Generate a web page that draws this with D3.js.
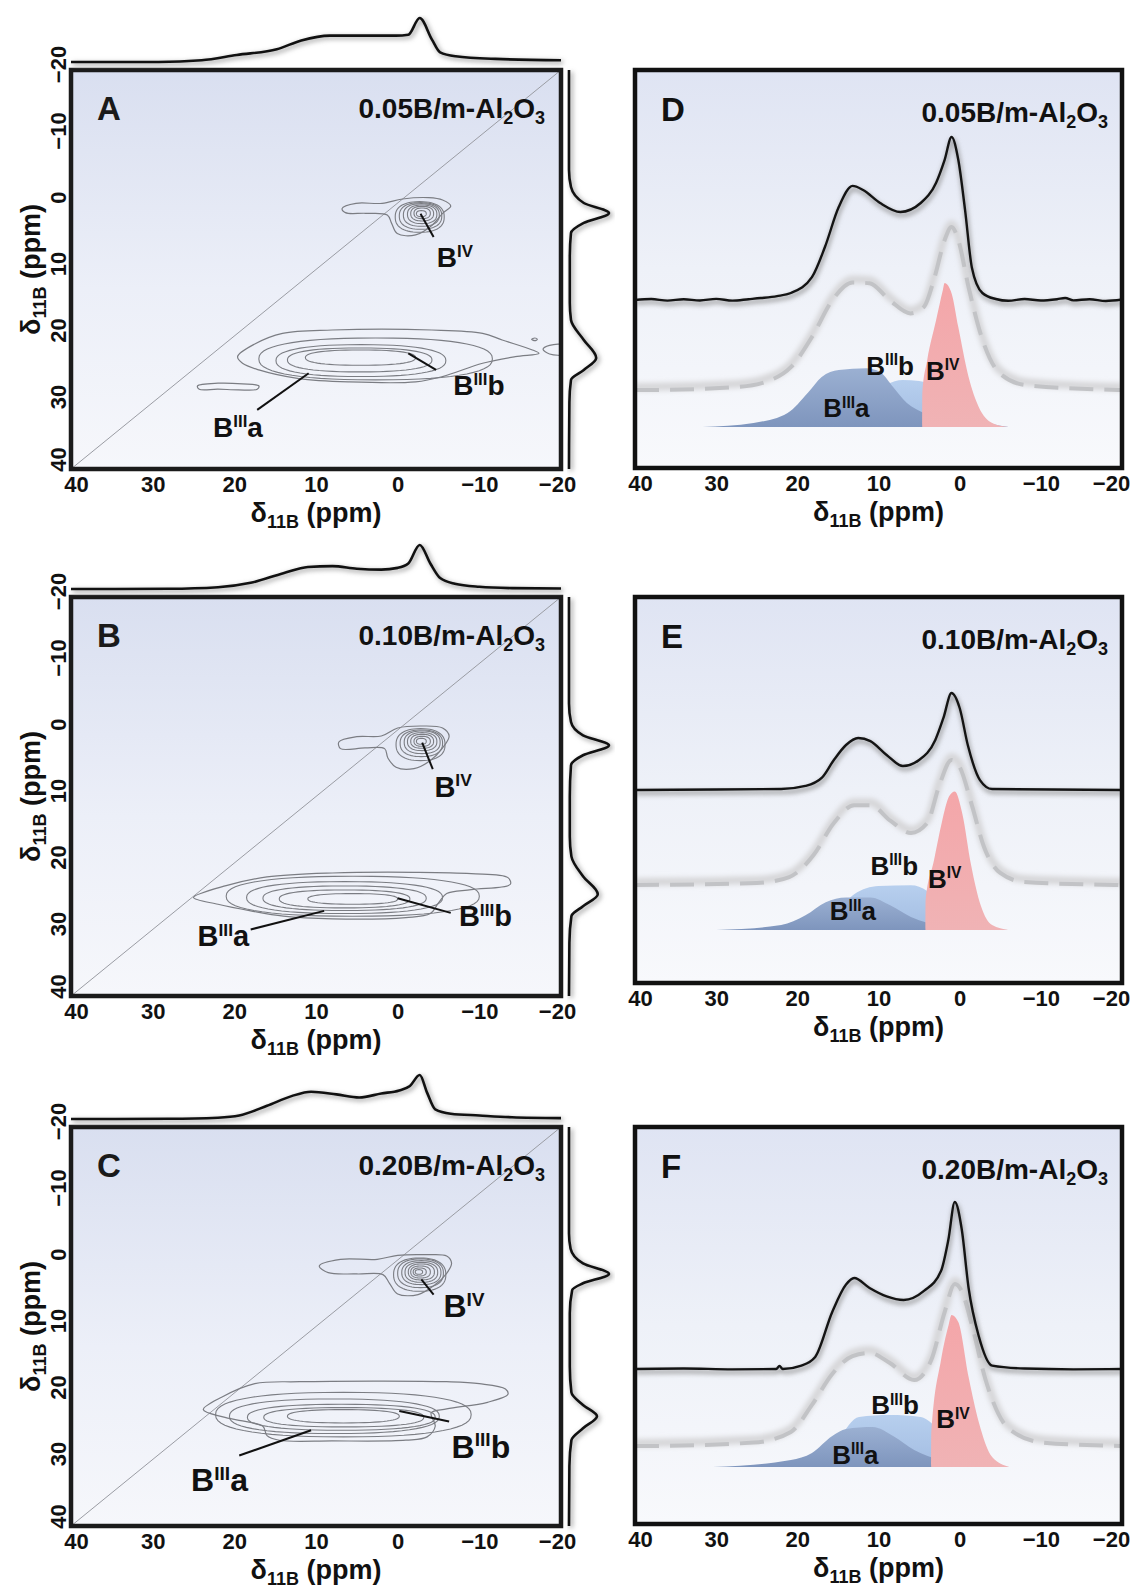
<!DOCTYPE html>
<html>
<head>
<meta charset="utf-8">
<script src="https://cdn.jsdelivr.net/npm/d3@7"></script>
<style>
  body { margin: 0; background: #fff; }
  svg { display: block; font-family: 'Liberation Sans', Arial, sans-serif; }
</style>
</head>
<body>
<svg id="chart" width="1133" height="1589"></svg>
<script>
// ---------- tick labels / panel text ----------
let ppmTicks = [40, 30, 20, 10, 0, -10, -20]
let f1Ticks = [-20, -10, 0, 10, 20, 30, 40]
let letters2D = ['A', 'B', 'C']
let letters1D = ['D', 'E', 'F']
let loadings = ['0.05', '0.10', '0.20']

// ---------- 2D projections [ppm, intensity] ----------
let topProjA = [[40, 0], [29.3, 0], [24, 4], [19.7, 16], [14.8, 29], [11.8, 49], [8.3, 60], [5, 60], [0.2, 60], [-1.3, 62], [-2.7, 100], [-4.2, 51], [-5.2, 22], [-7.1, 13], [-12, 7], [-20, 4]]
let topProjB = [[40, 0], [28, 0.5], [22, 4], [18, 14], [14, 36], [11, 50], [8, 52], [5, 46], [2, 44], [0, 48], [-1.3, 58], [-2.7, 100], [-4, 58], [-5.2, 25], [-7, 12], [-10, 5], [-14, 2], [-20, 1]]
let topProjC = [[40, 0], [28, 0.5], [22, 3], [19.4, 8], [16, 30], [13, 52], [10.6, 62], [7.5, 56], [4.7, 49], [2, 58], [-0.2, 65], [-1.5, 75], [-2.7, 100], [-3.6, 60], [-4.6, 22], [-6.5, 12], [-10, 8], [-14, 4], [-20, 2]]

let rightProjA = [[-20, 0], [-5, 0], [-2.4, 5], [0, 37], [1.5, 100], [3, 37], [4.5, 5], [8, 2], [15, 2], [17.6, 5], [20.6, 37], [23.3, 68], [25.1, 37], [26.6, 5], [30, 1], [40, 0]]
let rightProjB = [[-20, 0], [-4, 0], [-1.2, 5], [0.8, 35], [2.3, 100], [3.8, 35], [5.3, 5], [10, 2], [16, 2], [19, 6], [22, 35], [24.7, 72], [26.5, 35], [28, 6], [32, 1], [40, 0]]
let rightProjC = [[-20, 0], [-4, 0], [-1.7, 4], [0.5, 35], [2.1, 100], [3.5, 35], [4.5, 8], [8, 2], [16, 2], [19.9, 6], [21.8, 35], [23.5, 70], [25.3, 35], [27.1, 6], [31, 1], [40, 0]]

// ---------- 2D contours: outlines [[F2, F1], ...] and rings [cx, cy, rx, ry] (ppm) ----------
let outlinesA = [
  [[6.8, 0.8], [5.1, 0.05], [1.9, 0.05], [-0.6, -0.6], [-3.8, -0.8], [-5.5, -0.45], [-6.5, 0.45], [-5.5, 1.55], [-4.25, 3.3], [-2.2, 4.8], [0.05, 4.6], [0.74, 3.06], [1.27, 1.8], [3.9, 1.55], [6.4, 1.45]],
  [[19.6, 23.1], [17.5, 21.2], [14.1, 19.6], [8, 19.1], [-4.2, 19.1], [-10.4, 19.6], [-12.8, 20.6], [-16.5, 22.1], [-17.3, 22.6], [-14.4, 23.1], [-10.4, 24.1], [-5.5, 26.1], [-2.2, 26.9], [6, 26.9], [12.1, 26.4], [17, 25.1], [19, 24.1]],
  [[24.5, 27.5], [22, 27.1], [19, 27.2], [17, 27.5], [17.2, 28], [19.5, 28.1], [22, 28], [24.3, 28]],
  [[-17.8, 22.0], [-18.6, 21.4], [-20.5, 21.4], [-20.5, 22.7], [-18.6, 22.7]],
  [[-16.4, 20.5], [-16.8, 20.3], [-17.1, 20.5], [-16.8, 20.7]]
]
let ringsA = [
  [-2.7, 2.1, 3.0, 2.3], [-2.8, 1.95, 2.6, 2.0], [-2.9, 1.8, 2.2, 1.7], [-3.0, 1.7, 1.8, 1.4], [-3.0, 1.6, 1.4, 1.1], [-3.0, 1.55, 1.0, 0.8], [-2.9, 1.6, 0.6, 0.45],
  [2.7, 23.45, 14.3, 3.15], [4.5, 23.7, 10.4, 2.4], [4.65, 23.6, 8.85, 1.8], [4.55, 23.25, 6.75, 1.15]
]
let outlinesB = [
  [[7.2, 1.8], [5, 1.0], [2, 0.9], [0, -0.3], [-3, -0.6], [-5.5, -0.3], [-6.3, 0.9], [-5.5, 2.7], [-4, 4.6], [-2, 5.8], [0.2, 5.6], [1.2, 4.2], [1.6, 2.8], [4, 2.7], [7, 2.8]],
  [[25, 25.2], [21, 23.4], [16, 22.1], [8, 21.5], [-2, 21.4], [-9, 21.6], [-13.5, 22.2], [-13.8, 23.2], [-9, 24], [-6, 24.6], [-5, 26], [-4, 27.6], [-1, 28.2], [8, 28.4], [14, 28], [18, 27.2], [22, 26.2]]
]
let ringsB = [
  [-2.8, 2.2, 3.0, 2.4], [-2.9, 2.0, 2.6, 2.0], [-3.0, 1.85, 2.2, 1.7], [-3.0, 1.75, 1.8, 1.35], [-3.0, 1.7, 1.4, 1.05], [-3.0, 1.7, 1.0, 0.75], [-2.9, 1.7, 0.6, 0.45],
  [5.5, 25, 15.5, 3.0], [6.5, 25.2, 12, 2.4], [6.5, 25.3, 10, 1.85], [6.5, 25.4, 8, 1.35], [5.5, 25.4, 5.5, 0.8]
]
let outlinesC = [
  [[9.6, 0.9], [7, -0.1], [2.5, -0.1], [0, -0.7], [-3.5, -0.8], [-6, -0.6], [-6.6, 0.5], [-6, 2], [-4.5, 3.8], [-2.5, 5.2], [0, 5.1], [1, 3.5], [1.8, 2.2], [5, 2.1], [8.5, 1.9]],
  [[23.8, 22.5], [21.5, 20.6], [17.5, 18.6], [12, 18.3], [2, 18.2], [-6, 18.3], [-10, 18.6], [-13.2, 19.4], [-13.5, 20.2], [-11, 21.4], [-6, 22.4], [-4.1, 23], [-4.6, 25], [-3.6, 26.6], [-1, 27.1], [8, 27.2], [14.5, 27.1], [16, 26.4], [16.5, 25], [19, 24.2], [21.4, 23.6]]
]
let ringsC = [
  [-2.7, 2.2, 3.2, 2.5], [-2.8, 2.0, 2.8, 2.15], [-2.9, 1.9, 2.4, 1.8], [-2.9, 1.85, 2.0, 1.5], [-2.9, 1.8, 1.6, 1.2], [-2.8, 1.8, 1.2, 0.9], [-2.7, 1.8, 0.8, 0.6], [-2.6, 1.8, 0.45, 0.35],
  [6.65, 23.25, 15.65, 3.35], [7.75, 23.5, 12.85, 2.6], [6.9, 23.65, 11.5, 1.95], [6.6, 23.65, 9.8, 1.45], [6.65, 23.5, 6.85, 1.0]
]

// site labels [superscript, suffix, F2 ppm, F1 ppm] and leader lines [x1, y1, x2, y2] (ppm)
let sitesA = [['IV', '', -4.8, 9.6], ['III', 'b', -6.8, 28.9], ['III', 'a', 22.6, 35.2]]
let leadersA = [[-2.8, 1.6, -4.4, 5.1], [-1.3, 22.6, -4.7, 25.1], [10.9, 25.6, 17.2, 31.1]]
let sitesB = [['IV', '', -4.5, 10], ['III', 'b', -7.5, 29.5], ['III', 'a', 24.5, 32.5]]
let leadersB = [[-3, 1.9, -4.3, 5.9], [0, 25.3, -6.5, 27.5], [9, 27.2, 18, 30]]
let sitesC = [['IV', '', -5.6, 8.6], ['III', 'b', -6.6, 29.7], ['III', 'a', 25.3, 34.8]]
let leadersC = [[-2.9, 2.9, -4.4, 5.2], [-0.2, 22.7, -6.3, 24.3], [10.6, 25.6, 19.4, 29.4]]

// ---------- 1D MAS spectra [ppm, intensity a.u.] ----------
let expD = [[40, 0], [38, 0.6], [36, -0.4], [34, 0.5], [32, -0.3], [30, 0.7], [28, -0.4], [26, 0.5], [24.5, 1.2], [22.5, 2.4], [20.8, 4.3], [18.2, 14], [16.6, 32.5], [14.9, 57], [13.2, 70], [11.9, 67.5], [9.8, 59.5], [7.3, 54], [4.8, 59.5], [2.9, 72], [1.85, 86], [1.0, 100], [0.17, 86], [-0.67, 55], [-1.5, 20], [-2.8, 4.3], [-4.45, 0.6], [-6, -0.5], [-8, 0.6], [-10, -0.3], [-12, 0.5], [-13, 1.2], [-14, -0.2], [-16, 0.5], [-18, -0.6], [-20, 0.3]]
let fitD = [[40, 0], [38.8, 0], [27.5, 1.8], [23.3, 6.1], [20.8, 14], [18.2, 32.5], [15.7, 55], [13.2, 66], [11.1, 65.5], [8.6, 55], [6.06, 47], [4.4, 51], [3.1, 69], [1.85, 92], [1.0, 100], [0.17, 92], [-1.1, 63], [-2.8, 31], [-4.9, 10.4], [-8.2, 3], [-20, 0]]
let compD_IIIa = [[31.7, 0], [25.4, 2.5], [21.2, 8.6], [18.7, 21], [17, 30.7], [14.9, 35], [11.5, 36], [9.8, 33.7], [8.2, 24.5], [6.5, 14.7], [4.4, 8.6], [0.2, 2.5], [-6.1, 0]]
let compD_IIIb = [[16, 0], [13, 4.9], [11, 15.3], [9, 25.8], [7, 28.8], [5, 28.2], [3, 24.5], [1, 17.2], [-1, 9.2], [-3, 3.7], [-6, 0]]
let compD_IV = [[4.61, 0], [4.6, 21], [4.0, 41], [2.9, 65.6], [2.07, 84], [1.85, 88.3], [1.0, 82], [0.17, 61.3], [-1.1, 30.7], [-2.35, 12.3], [-4.0, 2.5], [-6, 0]]

let expE = [[40, 0], [30, 0.3], [22, 0.6], [19, 2.5], [17, 7.4], [15.5, 18.4], [14, 27.6], [12.5, 31.9], [11, 30], [9, 21.5], [7, 14.7], [5, 18.4], [3, 30.7], [2, 44.2], [1.0, 59.5], [0, 50.3], [-1, 27.6], [-2.5, 6.1], [-4, 0.6], [-20, 0]]
let fitE = [[40, 0], [25, 1.2], [21, 4.9], [18, 18.4], [15.5, 38], [13, 49], [11, 49], [8.5, 39.3], [6, 31.9], [4, 38], [2.5, 61.3], [1.0, 76.7], [0, 72.4], [-1.5, 49], [-3, 23.3], [-5, 7.4], [-8, 1.8], [-20, 0]]
let compE_IIIa = [[30, 0], [22, 3], [19, 9], [16.5, 17], [14, 20], [11, 20], [8.5, 15], [6, 8], [2, 2.5], [-6, 0]]
let compE_IIIb = [[18, 0], [15.5, 8], [13, 22], [10, 27], [6, 27.5], [4, 24], [2, 13], [-1, 3], [-5, 0]]
let compE_IV = [[4.21, 0], [4.2, 18], [3.2, 42], [2.2, 66], [1.3, 82], [0.6, 85], [-0.3, 72], [-1.4, 40], [-2.6, 15], [-4, 3], [-6, 0]]

let expF = [[40, 0], [34, 0.3], [28, -0.2], [22.6, 0], [22.2, 1.8], [21.8, 0], [19.5, 2.1], [17.8, 7.4], [15.7, 35], [14.0, 51.8], [13.0, 55.8], [11.1, 49.7], [9.0, 44.5], [6.9, 42.3], [4.4, 47.9], [2.3, 60.1], [1.4, 79.1], [0.6, 102.5], [-0.25, 85.9], [-1.1, 49.7], [-2.35, 20.2], [-4.0, 2.1], [-8, 0.3], [-14, -0.2], [-20, 0]]
let fitF = [[40, 0], [38.8, 0], [25.4, 2.1], [20.8, 8.6], [18.2, 25.2], [15.7, 44.2], [13.2, 55.2], [11.1, 57.1], [8.6, 50.9], [5.6, 40.5], [3.5, 52.8], [1.85, 82.2], [0.6, 99.4], [-0.25, 95.1], [-1.5, 74.2], [-3.2, 40.5], [-6.1, 10.4], [-10.3, 2.1], [-20, 0]]
let compF_IIIa = [[30.4, 0], [20.8, 4.3], [18.2, 8.6], [15.7, 19], [14.0, 23.3], [10.7, 24.5], [8.2, 19], [5.6, 10.4], [2.3, 4.3], [-6.1, 0]]
let compF_IIIb = [[19, 0], [17, 1.8], [14.9, 17.2], [12.4, 30.7], [8.6, 31.9], [4.8, 30.7], [2.7, 23.3], [0.6, 10.4], [-2.8, 1.8], [-5, 0]]
let compF_IV = [[3.51, 0], [3.5, 21.2], [2.3, 65.6], [1.4, 86.5], [1.0, 93.3], [0.17, 89], [-1.1, 55.2], [-2.35, 27.6], [-4.0, 6.1], [-6.1, 0]]

// labels in the 1D panels [superscript, suffix, ppm, intensity above component baseline]
let sitesD = [['III', 'b', 11.5, 32], ['IV', '', 4.15, 29], ['III', 'a', 16.8, 6]]
let sitesE = [['III', 'b', 11, 34], ['IV', '', 3.9, 26], ['III', 'a', 16, 6]]
let sitesF = [['III', 'b', 10.9, 32.5], ['IV', '', 2.9, 24], ['III', 'a', 15.7, 2]]

// ---------- layout ----------
let svg = d3.select('#chart')
let defs = svg.append('defs')
let FONT = "'Liberation Sans', Arial, sans-serif"

function vGrad(id, stops) {
  let g = defs.append('linearGradient').attr('id', id)
    .attr('x1', 0).attr('y1', 0).attr('x2', 0).attr('y2', 1)
  stops.forEach(s => g.append('stop').attr('offset', s[0]).attr('stop-color', s[1]))
}
vGrad('bg2D', [['0%', '#d9dff0'], ['55%', '#eceff8'], ['100%', '#f6f7fb']])
vGrad('bg1D', [['0%', '#dfe4f3'], ['50%', '#eef1f8'], ['100%', '#f8f9fc']])
vGrad('gIIIa', [['0%', '#9bb0d2'], ['100%', '#7e95bd']])
vGrad('gIIIb', [['0%', '#b7cfee'], ['100%', '#a3bde2']])
vGrad('gIV', [['0%', '#f4a6a9'], ['100%', '#f0b3b5']])

let blur = defs.append('filter').attr('id', 'blur').attr('x', '-10%').attr('y', '-10%').attr('width', '120%').attr('height', '120%')
blur.append('feGaussianBlur').attr('stdDeviation', 2.5)
let soft = defs.append('filter').attr('id', 'soft')
soft.append('feGaussianBlur').attr('stdDeviation', 0.7)

let panel2D = { left: 71, w: 490, h: 399, tops: [70, 597, 1127] }
let panel1D = { left: 635, w: 487, tops: [70, 597, 1127], heights: [398, 386, 397] }
// baselines (px) of experimental / fit / component traces in D, E, F; px per intensity unit
let base1D = [[300, 390, 427], [790, 885, 930], [1369, 1446, 1467]]
let pxPerUnit = 1.63

function siteLabel(g, px, py, sup, suf, fs) {
  let t = g.append('text').attr('x', px).attr('y', py)
    .attr('font-size', fs).attr('font-weight', 'bold').attr('fill', '#111')
  t.append('tspan').text('B')
  t.append('tspan').attr('font-size', fs * 0.6).attr('dy', -fs * 0.36).text(sup)
  if (suf) t.append('tspan').attr('dy', fs * 0.36).text(suf)
}

function axisTitle(g, px, py, rotate) {
  let t = g.append('text').attr('text-anchor', 'middle')
    .attr('font-size', 27).attr('font-weight', 'bold').attr('fill', '#111')
    .attr('transform', 'translate(' + px + ',' + py + ')' + (rotate ? ' rotate(-90)' : ''))
  t.append('tspan').text('δ')
  t.append('tspan').attr('font-size', 18).attr('dy', 6).text('11B')
  t.append('tspan').attr('dy', -6).text(' (ppm)')
}

function sampleLabel(g, px, py, load) {
  let t = g.append('text').attr('x', px).attr('y', py).attr('text-anchor', 'end')
    .attr('font-size', 28).attr('font-weight', 'bold').attr('fill', '#111')
  t.append('tspan').text(load + 'B/m-Al')
  t.append('tspan').attr('font-size', 18).attr('dy', 6).text('2')
  t.append('tspan').attr('dy', -6).text('O')
  t.append('tspan').attr('font-size', 18).attr('dy', 6).text('3')
}

function bottomAxis(g, x, yPos, edgeShift) {
  let ax = g.append('g').attr('transform', 'translate(0,' + yPos + ')')
    .call(d3.axisBottom(x).tickValues(ppmTicks).tickSize(0).tickPadding(5))
  ax.select('.domain').remove()
  ax.attr('font-size', 22).attr('font-weight', 'bold').attr('font-family', FONT)
  ax.selectAll('text').attr('fill', '#111')
    .attr('dx', d => d === 40 ? 5 : d === -20 ? -edgeShift : 0)
}

// ---------- 2D panels ----------
let topProjs = [topProjA, topProjB, topProjC]
let rightProjs = [rightProjA, rightProjB, rightProjC]
let outlines = [outlinesA, outlinesB, outlinesC]
let rings = [ringsA, ringsB, ringsC]
let sites2D = [sitesA, sitesB, sitesC]
let leaders2D = [leadersA, leadersB, leadersC]
let labelSize2D = [28, 29, 32]

letters2D.forEach((letter, i) => {
  let top = panel2D.tops[i]
  let left = panel2D.left
  let w = panel2D.w
  let h = panel2D.h
  let x = d3.scaleLinear().domain([40, -20]).range([left, left + w])
  let y = d3.scaleLinear().domain([-20, 40]).range([top, top + h])
  let g = svg.append('g')

  g.append('rect').attr('x', left).attr('y', top).attr('width', w).attr('height', h)
    .attr('fill', 'url(#bg2D)')

  let clipId = 'clip2D' + i
  defs.append('clipPath').attr('id', clipId).append('rect')
    .attr('x', left).attr('y', top).attr('width', w).attr('height', h)
  let inner = g.append('g').attr('clip-path', 'url(#' + clipId + ')')

  // diagonal
  inner.append('line')
    .attr('x1', x(40)).attr('y1', y(40)).attr('x2', x(-20)).attr('y2', y(-20))
    .attr('stroke', '#9a9ca3').attr('stroke-width', 1)

  let outline = d3.line().x(d => x(d[0])).y(d => y(d[1])).curve(d3.curveCatmullRomClosed.alpha(0.5))
  inner.selectAll('.outline')
    .data(outlines[i])
    .enter()
    .append('path')
    .attr('class', 'outline')
    .attr('d', outline)
    .attr('fill', 'none')
    .attr('stroke', '#7b7d83')
    .attr('stroke-width', 1.2)

  // inner contour rings drawn as rounded ellipses
  let ring = function(r) {
    let pts = d3.range(60).map(k => {
      let t = k / 60 * 2 * Math.PI
      let c = Math.cos(t)
      let s = Math.sin(t)
      return [r[0] + r[2] * Math.sign(c) * Math.pow(Math.abs(c), 2 / 2.4),
              r[1] + r[3] * Math.sign(s) * Math.pow(Math.abs(s), 2 / 2.4)]
    })
    return d3.line().x(d => x(d[0])).y(d => y(d[1])).curve(d3.curveLinearClosed)(pts)
  }
  inner.selectAll('.ring')
    .data(rings[i])
    .enter()
    .append('path')
    .attr('class', 'ring')
    .attr('d', ring)
    .attr('fill', 'none')
    .attr('stroke', '#7b7d83')
    .attr('stroke-width', 1.1)

  // leaders and site labels
  g.selectAll('.leader')
    .data(leaders2D[i])
    .enter()
    .append('line')
    .attr('class', 'leader')
    .attr('x1', d => x(d[0])).attr('y1', d => y(d[1]))
    .attr('x2', d => x(d[2])).attr('y2', d => y(d[3]))
    .attr('stroke', '#111').attr('stroke-width', 2)
  sites2D[i].forEach(s => siteLabel(g, x(s[2]), y(s[3]), s[0], s[1], labelSize2D[i]))

  // frame
  g.append('rect').attr('x', left).attr('y', top).attr('width', w).attr('height', h)
    .attr('fill', 'none').attr('stroke', '#1b1b1b').attr('stroke-width', 4.5)

  // top projection (F2)
  let pTop = d3.scaleLinear().domain([0, 100]).range([top - 8, top - 52])
  let topLine = d3.line().x(d => x(d[0])).y(d => pTop(d[1])).curve(d3.curveMonotoneX)
  g.append('path').datum(topProjs[i]).attr('d', topLine)
    .attr('fill', 'none').attr('stroke', '#999').attr('stroke-width', 3)
    .attr('filter', 'url(#blur)').attr('transform', 'translate(2,2)')
  g.append('path').datum(topProjs[i]).attr('d', topLine)
    .attr('fill', 'none').attr('stroke', '#111').attr('stroke-width', 2.6)

  // right projection (F1)
  let pRight = d3.scaleLinear().domain([0, 100]).range([left + w + 8, left + w + 48])
  let rightLine = d3.line().x(d => pRight(d[1])).y(d => y(d[0])).curve(d3.curveMonotoneY)
  g.append('path').datum(rightProjs[i]).attr('d', rightLine)
    .attr('fill', 'none').attr('stroke', '#999').attr('stroke-width', 3)
    .attr('filter', 'url(#blur)').attr('transform', 'translate(2,2)')
  g.append('path').datum(rightProjs[i]).attr('d', rightLine)
    .attr('fill', 'none').attr('stroke', '#111').attr('stroke-width', 2.6)

  // axes
  bottomAxis(g, x, top + h + 2, 4)
  let yAx = g.append('g').attr('transform', 'translate(' + left + ',0)')
    .call(d3.axisLeft(y).tickValues(f1Ticks).tickSize(0))
  yAx.select('.domain').remove()
  yAx.attr('font-size', 22).attr('font-weight', 'bold').attr('font-family', FONT)
  yAx.selectAll('text').attr('fill', '#111')
    .attr('transform', 'rotate(-90)').attr('text-anchor', 'middle')
    .attr('x', d => d === 40 ? 10 : 6).attr('y', -5).attr('dy', 0)

  axisTitle(g, left + w / 2, top + h + 53, false)
  axisTitle(g, 40, top + h / 2, true)

  g.append('text').attr('x', left + 26).attr('y', top + 50)
    .attr('font-size', 33).attr('font-weight', 'bold').attr('fill', '#1a1a1a').text(letter)
  sampleLabel(g, left + w - 16, top + 48, loadings[i])
})

// ---------- 1D panels ----------
let exps = [expD, expE, expF]
let fits = [fitD, fitE, fitF]
let compsIIIa = [compD_IIIa, compE_IIIa, compF_IIIa]
let compsIIIb = [compD_IIIb, compE_IIIb, compF_IIIb]
let compsIV = [compD_IV, compE_IV, compF_IV]
let sites1D = [sitesD, sitesE, sitesF]

letters1D.forEach((letter, i) => {
  let top = panel1D.tops[i]
  let left = panel1D.left
  let w = panel1D.w
  let h = panel1D.heights[i]
  let x = d3.scaleLinear().domain([40, -20]).range([left, left + w])
  let yExp = d3.scaleLinear().domain([0, 100]).range([base1D[i][0], base1D[i][0] - 100 * pxPerUnit])
  let yFit = d3.scaleLinear().domain([0, 100]).range([base1D[i][1], base1D[i][1] - 100 * pxPerUnit])
  let yComp = d3.scaleLinear().domain([0, 100]).range([base1D[i][2], base1D[i][2] - 100 * pxPerUnit])
  let g = svg.append('g')

  g.append('rect').attr('x', left).attr('y', top).attr('width', w).attr('height', h)
    .attr('fill', 'url(#bg1D)')
  let clipId = 'clip1D' + i
  defs.append('clipPath').attr('id', clipId).append('rect')
    .attr('x', left).attr('y', top).attr('width', w).attr('height', h)
  let inner = g.append('g').attr('clip-path', 'url(#' + clipId + ')')

  // component baseline
  inner.append('line')
    .attr('x1', x(33)).attr('x2', x(-16)).attr('y1', yComp(0)).attr('y2', yComp(0))
    .attr('stroke', '#c3cadb').attr('stroke-width', 2).attr('filter', 'url(#soft)')

  let compArea = d3.area().x(d => x(d[0])).y0(yComp(0)).y1(d => yComp(d[1])).curve(d3.curveMonotoneX)
  inner.append('path').datum(compsIIIb[i]).attr('d', compArea)
    .attr('fill', 'url(#gIIIb)').attr('filter', 'url(#soft)')
  inner.append('path').datum(compsIIIa[i]).attr('d', compArea)
    .attr('fill', 'url(#gIIIa)').attr('filter', 'url(#soft)')
  inner.append('path').datum(compsIV[i]).attr('d', compArea)
    .attr('fill', 'url(#gIV)').attr('filter', 'url(#soft)')

  // fit (dashed)
  let fitLine = d3.line().x(d => x(d[0])).y(d => yFit(d[1])).curve(d3.curveMonotoneX)
  inner.append('path').datum(fits[i]).attr('d', fitLine)
    .attr('fill', 'none').attr('stroke', '#d6d6d8').attr('stroke-width', 8)
    .attr('filter', 'url(#blur)').attr('transform', 'translate(0,-3)')
  inner.append('path').datum(fits[i]).attr('d', fitLine)
    .attr('fill', 'none').attr('stroke', '#c2c3c6').attr('stroke-width', 4)
    .attr('stroke-dasharray', '24 11')

  // experimental
  let expLine = d3.line().x(d => x(d[0])).y(d => yExp(d[1])).curve(d3.curveMonotoneX)
  inner.append('path').datum(exps[i]).attr('d', expLine)
    .attr('fill', 'none').attr('stroke', '#8a8a8a').attr('stroke-width', 3)
    .attr('filter', 'url(#blur)').attr('transform', 'translate(1,3)')
  inner.append('path').datum(exps[i]).attr('d', expLine)
    .attr('fill', 'none').attr('stroke', '#141414').attr('stroke-width', 2.4)

  sites1D[i].forEach(s => siteLabel(g, x(s[2]), yComp(s[3]), s[0], s[1], 26))

  g.append('rect').attr('x', left).attr('y', top).attr('width', w).attr('height', h)
    .attr('fill', 'none').attr('stroke', '#111').attr('stroke-width', 4.5)

  bottomAxis(g, x, top + h + 2, 11)
  axisTitle(g, left + w / 2, top + h + 53, false)

  g.append('text').attr('x', left + 26).attr('y', top + 51)
    .attr('font-size', 33).attr('font-weight', 'bold').attr('fill', '#111').text(letter)
  sampleLabel(g, left + w - 14, top + 52, loadings[i])
})
</script>
</body>
</html>
